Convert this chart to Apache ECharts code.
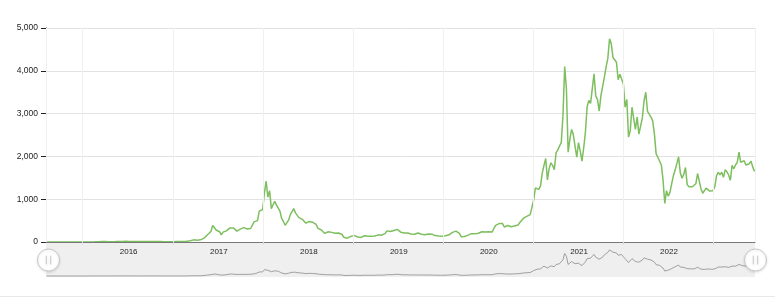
<!DOCTYPE html>
<html>
<head>
<meta charset="utf-8">
<script src="https://cdn.jsdelivr.net/npm/echarts@6/dist/echarts.min.js"></script>
<style>
  html, body { margin: 0; padding: 0; background: #fff; }
  #main { width: 775px; height: 296px; border-bottom: 1px solid #e8e8e8; }
</style>
</head>
<body>
<div id="main"></div>
<script>
// weekly closing prices (USD)
const eth2015 = [2.8, 1.8, 1.4, 1.2, 1.3, 1.0, 0.9, 0.8, 0.7, 0.6, 0.5, 0.6, 1.0, 0.95, 0.9, 0.95, 0.87, 0.85, 0.9, 0.88, 0.93]
const eth2016 = [0.95, 1.0, 1.2, 1.6, 2.2, 2.5, 3.5, 4.3, 5.5, 7.0, 10.5, 11.5, 10.5, 11.5, 8.5, 8.2, 8.0, 8.0, 9.3, 9.8,
  12.5, 13.5, 14.0, 14.5, 18.0, 19.5, 14.5, 12.5, 12.0, 11.5, 12.5, 11.5, 10.5, 9.5, 11.0, 11.5, 12.0, 12.5, 12.8, 13.0,
  12.8, 12.0, 11.8, 11.5, 10.9, 10.5, 9.8, 8.5, 8.3, 8.2, 7.6, 7.3]
const eth2017 = [8.2, 10.2, 9.8, 10.6, 10.6, 11.3, 11.4, 12.7, 15.5, 19.5, 28, 38, 50, 45, 43, 48, 50, 80, 90, 90,
  170, 180, 245, 385, 360, 280, 280, 240, 165, 230, 200, 260, 300, 330, 370, 330, 300, 255, 290, 300,
  300, 335, 295, 305, 300, 315, 355, 470, 460, 500, 720, 680, 760]
const eth2018 = [1150, 1420, 1050, 1200, 780, 870, 950, 860, 870, 720, 550, 480, 390, 400, 510, 640, 680, 780, 680, 690,
  570, 600, 530, 500, 440, 460, 480, 470, 460, 460, 410, 320, 300, 280, 290, 200, 220, 240, 230, 225,
  205, 205, 200, 210, 210, 175, 110, 110, 90, 85, 130, 135]
const eth2019 = [155, 125, 118, 108, 107, 122, 145, 137, 132, 134, 137, 135, 141, 178, 167, 172, 159, 170, 200, 260,
  265, 245, 230, 270, 310, 295, 305, 230, 220, 212, 230, 210, 195, 185, 178, 180, 200, 210, 170, 180,
  190, 172, 180, 185, 185, 183, 150, 150, 148, 140, 133, 134]
const eth2020 = [140, 145, 167, 168, 190, 225, 270, 255, 230, 200, 125, 122, 130, 145, 160, 180, 195, 210, 190, 205,
  205, 235, 240, 230, 232, 225, 240, 240, 235, 315, 390, 395, 430, 395, 430, 350, 365, 385, 355, 355,
  370, 375, 410, 395, 455, 450, 550, 590, 600, 590, 640, 680]
const eth2021 = [975, 1260, 1230, 1230, 1310, 1610, 1790, 1950, 1450, 1720, 1850, 1790, 1690, 2080, 2150, 2240, 2320, 2950, 4100, 3580,
  2100, 2400, 2630, 2510, 2240, 1980, 2320, 2130, 1890, 2190, 2560, 3160, 3310, 3240, 3230, 3930, 3410, 3330, 3060, 3420,
  3420, 3850, 4090, 4290, 4750, 4630, 4310, 4290, 4200, 3790, 3920, 3900]
const eth2022 = [3700, 3150, 3330, 2450, 2600, 3150, 2880, 2630, 2920, 2520, 2520, 2900, 3300, 3500, 3050, 3060, 2920, 2830, 2520, 2060,
  1980, 1940, 1800, 1450, 900, 1200, 1070, 1160, 1360, 1550, 1680, 1700, 1990, 1620, 1490, 1580, 1740, 1340, 1290, 1300,
  1290, 1280, 1360, 1600, 1620, 1240, 1140, 1200, 1260, 1280, 1190, 1220]
const eth2023 = [1200, 1290, 1550, 1630, 1570, 1630, 1510, 1690, 1640, 1565, 1440, 1790, 1710, 1800, 1860, 2100, 1860, 1870, 1900, 1800,
  1810, 1830, 1890, 1750, 1650]

// first week of each array
const weekStarts = ['2015-08-07', '2016-01-01', '2017-01-01', '2018-01-07', '2019-01-06', '2020-01-05', '2021-01-03', '2022-01-02', '2023-01-01']
const yearlyPrices = [eth2015, eth2016, eth2017, eth2018, eth2019, eth2020, eth2021, eth2022, eth2023]

const axisMin = Date.UTC(2015, 7, 5)
const axisMax = Date.UTC(2023, 5, 20)
const DAY = 24 * 3600 * 1000
const YEAR = 365 * DAY

const points = []
weekStarts.forEach((start, j) => {
  const [y, m, d] = start.split('-').map(Number)
  yearlyPrices[j].forEach((v, i) => {
    points.push([Date.UTC(y, m - 1, d + 7 * i), v])
  })
})

const font = '"Liberation Sans", Arial, sans-serif'
// round grip with two small bars
const gripIcon = 'path://M0,-10A10,10,0,1,1,0,10A10,10,0,1,1,0,-10Z M-2,-4L-2,4 M2,-4L2,4'

const chart = echarts.init(document.getElementById('main'), null, { renderer: 'canvas' })
chart.setOption({
  animation: false,
  useUTC: true,
  grid: [
    { left: 46, right: 20, top: 28, height: 214 },
    {
      left: 46, right: 20, top: 243, height: 34,
      show: true, backgroundColor: '#efefef', borderWidth: 0,
    },
  ],
  xAxis: [
    {
      type: 'time',
      gridIndex: 0,
      min: axisMin,
      max: axisMax,
      minInterval: YEAR,
      z: 10,
      axisLine: { lineStyle: { color: '#777', width: 1 } },
      axisTick: { show: true, length: 3, lineStyle: { color: '#ddd' } },
      splitLine: { show: true, lineStyle: { color: '#f0f0f0' } },
      axisLabel: {
        margin: 6,
        align: 'left',
        padding: [0, 0, 0, 37],
        color: '#222',
        fontSize: 8,
        fontFamily: font,
        formatter: (value) => {
          const dt = new Date(value)
          if (dt.getUTCMonth() !== 0 || dt.getUTCDate() !== 1) return ''
          if (value < axisMin || value + YEAR > axisMax) return ''
          return String(dt.getUTCFullYear())
        },
      },
    },
    {
      type: 'time',
      gridIndex: 1,
      min: axisMin,
      max: axisMax,
      show: false,
    },
  ],
  yAxis: [
    {
      type: 'value',
      gridIndex: 0,
      min: 0,
      max: 5000,
      interval: 1000,
      axisLine: { show: true, lineStyle: { color: '#222' } },
      axisTick: { show: true, length: 5, lineStyle: { color: '#222' } },
      splitLine: { lineStyle: { color: '#e2e2e2' } },
      axisLabel: {
        margin: 8,
        color: '#222',
        fontSize: 8.5,
        fontFamily: font,
        formatter: (v) => v.toLocaleString('en-US'),
      },
    },
    {
      type: 'value',
      gridIndex: 1,
      min: -180,
      max: 6000,
      show: false,
    },
  ],
  dataZoom: [
    {
      type: 'slider',
      xAxisIndex: [0, 1],
      start: 0,
      end: 100,
      left: 46,
      right: 20,
      top: 243,
      height: 34,
      showDataShadow: false,
      showDetail: false,
      brushSelect: false,
      moveHandleSize: 0,
      backgroundColor: 'rgba(0,0,0,0)',
      fillerColor: 'rgba(0,0,0,0)',
      borderColor: 'rgba(0,0,0,0)',
      handleIcon: gripIcon,
      handleSize: 22,
      handleStyle: {
        color: '#fff',
        borderColor: '#c8c8c8',
        borderWidth: 1,
        shadowBlur: 3,
        shadowColor: 'rgba(0,0,0,0.12)',
        shadowOffsetY: 1,
      },
      emphasis: { handleStyle: { color: '#fff', borderColor: '#bbb' } },
    },
  ],
  series: [
    {
      name: 'Price',
      type: 'line',
      xAxisIndex: 0,
      yAxisIndex: 0,
      data: points,
      showSymbol: false,
      smooth: false,
      lineStyle: { color: '#7dbf5e', width: 1.5 },
      itemStyle: { color: '#7dbf5e' },
    },
    {
      name: 'Overview',
      type: 'line',
      xAxisIndex: 1,
      yAxisIndex: 1,
      data: points,
      showSymbol: false,
      lineStyle: { color: '#8c8c8c', width: 0.8 },
      itemStyle: { color: '#8c8c8c' },
    },
  ],
})
</script>
</body>
</html>
